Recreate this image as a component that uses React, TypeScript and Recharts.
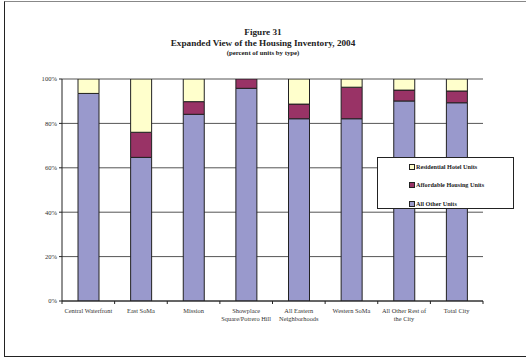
import React from "react";
import { BarChart, Bar, XAxis, YAxis, CartesianGrid, Legend } from "recharts";

const categories = [
  "Central Waterfront",
  "East SoMa",
  "Mission",
  "Showplace Square/Potrero Hill",
  "All Eastern Neighborhoods",
  "Western SoMa",
  "All Other Rest of the City",
  "Total City",
];
const tickLabels: string[][] = [
  ["Central Waterfront"],
  ["East SoMa"],
  ["Mission"],
  ["Showplace", "Square/Potrero Hill"],
  ["All Eastern", "Neighborhoods"],
  ["Western SoMa"],
  ["All Other Rest of", "the City"],
  ["Total City"],
];
const allOtherUnits = [93.5, 64.7, 84.1, 95.8, 82.1, 82.1, 90.1, 89.3];
const affordableUnits = [0, 11.3, 5.7, 4.2, 6.6, 14.2, 4.9, 5.3];
const hotelUnits = [6.5, 24.0, 10.2, 0, 11.3, 3.7, 5.0, 5.4];
const yTicks = [0, 20, 40, 60, 80, 100];

const seriesNames = {
  other: "All Other Units",
  affordable: "Affordable Housing Units",
  hotel: "Residential Hotel Units",
};
const colors = { other: "#9999CC", affordable: "#993366", hotel: "#FFFFCC" };

const data = categories.map((c, i) => ({
  name: c,
  other: allOtherUnits[i],
  affordable: affordableUnits[i],
  hotel: hotelUnits[i],
}));

const FONT = "'Liberation Serif', 'Times New Roman', serif";

const XTick = (props: any) => {
  const { x, y, payload, width, visibleTicksCount } = props;
  const band = width && visibleTicksCount ? width / visibleTicksCount : 52.6;
  const lines = tickLabels[payload.index] || [String(payload.value)];
  return (
    <g>
      <line x1={x + band / 2} x2={x + band / 2} y1={y} y2={y + 3} stroke="#222" strokeWidth={1} />
      {payload.index === 0 && (
        <line x1={x - band / 2} x2={x - band / 2} y1={y} y2={y + 3} stroke="#222" strokeWidth={1} />
      )}
      <text textAnchor="middle" fontFamily={FONT} fontSize={6.4} fill="#333">
        {lines.map((l, k) => (
          <tspan key={k} x={x} y={y + 11.5 + k * 8}>
            {l}
          </tspan>
        ))}
      </text>
    </g>
  );
};

const LegendBox = () => {
  const items = [
    { key: "hotel", label: seriesNames.hotel, color: colors.hotel },
    { key: "affordable", label: seriesNames.affordable, color: colors.affordable },
    { key: "other", label: seriesNames.other, color: colors.other },
  ];
  return (
    <div
      style={{
        width: 137,
        height: 52,
        border: "1.2px solid #222",
        background: "#fff",
        boxSizing: "border-box",
        position: "relative",
      }}
    >
      {items.map((it, i) => (
        <div
          key={it.key}
          style={{
            position: "absolute",
            left: 31,
            top: 4.5 + i * 18.6,
            display: "flex",
            alignItems: "center",
            fontFamily: FONT,
            fontWeight: "bold",
            fontSize: 6.2,
            color: "#222",
            whiteSpace: "nowrap",
            lineHeight: "8px",
          }}
        >
          <span
            style={{
              display: "inline-block",
              width: 4,
              height: 4,
              background: it.color,
              border: "0.8px solid #222",
              marginRight: 1,
            }}
          />
          {it.label}
        </div>
      ))}
    </div>
  );
};

export default function App() {
  return (
    <div style={{ position: "absolute", left: 0, top: 0, width: 526, height: 360, background: "#fff", overflow: "hidden" }}>
      <div
        style={{
          position: "absolute",
          left: 3.5,
          top: 1,
          width: 540,
          height: 356,
          borderLeft: "1.5px solid #222",
          borderBottom: "1.5px solid #222",
          borderTop: "1.2px solid #888",
          boxSizing: "border-box",
        }}
      />
      <div
        style={{
          position: "absolute",
          left: 0,
          width: 526,
          top: 27,
          textAlign: "center",
          fontFamily: FONT,
          fontWeight: "bold",
          color: "#222",
        }}
      >
        <div style={{ fontSize: 9.2, lineHeight: "10.5px" }}>Figure 31</div>
        <div style={{ fontSize: 9.2, lineHeight: "10.5px" }}>Expanded View of the Housing Inventory, 2004</div>
        <div style={{ fontSize: 6.8, lineHeight: "9px" }}>(percent of units by type)</div>
      </div>
      <div style={{ position: "absolute", left: 0, top: 0 }}>
        <BarChart
          width={526}
          height={360}
          data={data}
          margin={{ top: 79, right: 43, left: 0, bottom: 29 }}
          barCategoryGap={0}
        >
          <CartesianGrid horizontal={true} vertical={false} stroke="#555" strokeWidth={1} />
          <XAxis
            dataKey="name"
            height={30}
            interval={0}
            tickSize={0}
            tickMargin={0}
            tickLine={false}
            axisLine={{ stroke: "#222", strokeWidth: 1 }}
            tick={<XTick />}
          />
          <YAxis
            width={62}
            domain={[0, 100]}
            ticks={yTicks}
            tickFormatter={(v: number) => `${v}%`}
            tickSize={3}
            tickMargin={2}
            tickLine={{ stroke: "#222" }}
            axisLine={{ stroke: "#222", strokeWidth: 1 }}
            tick={{ fontFamily: FONT, fontSize: 6.6, fill: "#333" }}
            allowDataOverflow
          />
          <YAxis
            yAxisId="r"
            orientation="right"
            width={0}
            domain={[0, 100]}
            tick={false}
            tickLine={false}
            axisLine={{ stroke: "#aaa", strokeWidth: 1.2 }}
          />
          <Legend
            layout="vertical"
            align="center"
            verticalAlign="middle"
            content={() => <LegendBox />}
            wrapperStyle={{ position: "absolute", left: 377, top: 157, width: 139, height: 54 }}
          />
          <Bar dataKey="other" name={seriesNames.other} stackId="a" fill={colors.other} stroke="#222" strokeWidth={1} barSize={21} isAnimationActive={false} />
          <Bar dataKey="affordable" name={seriesNames.affordable} stackId="a" fill={colors.affordable} stroke="#222" strokeWidth={1} barSize={21} isAnimationActive={false} />
          <Bar dataKey="hotel" name={seriesNames.hotel} stackId="a" fill={colors.hotel} stroke="#222" strokeWidth={1} barSize={21} isAnimationActive={false} />
        </BarChart>
      </div>
    </div>
  );
}
